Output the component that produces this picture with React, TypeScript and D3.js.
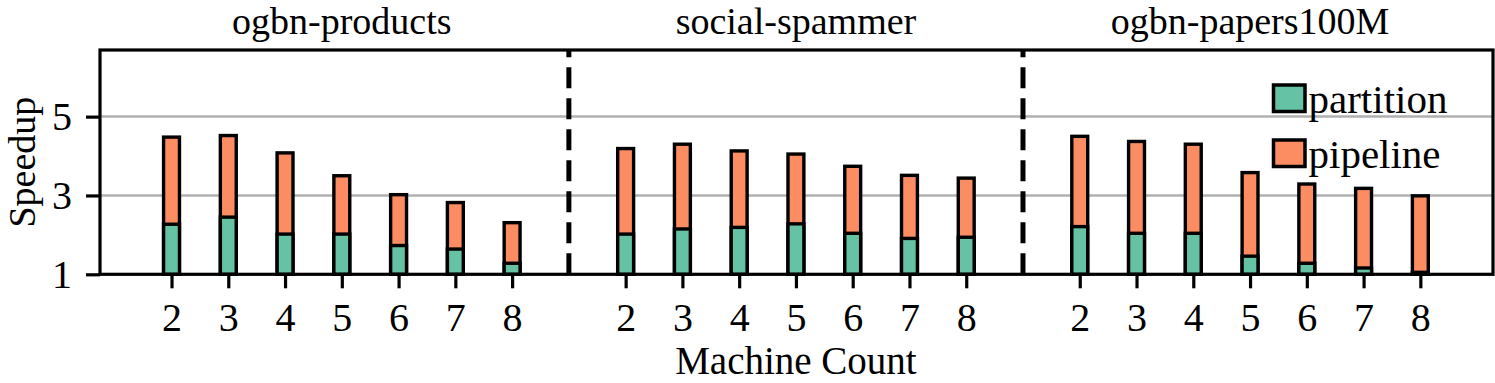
import React, { useEffect, useRef } from 'react';
import * as d3 from 'd3';

// datasets (one panel each) and machine counts on the x axis
const datasets = ['ogbn-products', 'social-spammer', 'ogbn-papers100M'];
const machines = [2, 3, 4, 5, 6, 7, 8];

// speedup reached with partition only
const partitionProducts = [2.27, 2.45, 2.02, 2.02, 1.73, 1.64, 1.28];
const partitionSpammer = [2.02, 2.15, 2.19, 2.28, 2.04, 1.91, 1.94];
const partitionPapers = [2.21, 2.04, 2.04, 1.46, 1.28, 1.16, 1.05];

// speedup with partition + pipeline (top of stacked bar)
const pipelineProducts = [4.48, 4.52, 4.08, 3.50, 3.02, 2.82, 2.31];
const pipelineSpammer = [4.19, 4.30, 4.13, 4.05, 3.74, 3.51, 3.44];
const pipelinePapers = [4.50, 4.37, 4.30, 3.58, 3.29, 3.18, 2.99];

const yTicks = [1, 3, 5];

const partitionSeries = [partitionProducts, partitionSpammer, partitionPapers];
const pipelineSeries = [pipelineProducts, pipelineSpammer, pipelinePapers];

const GREEN = '#66c2a5';
const ORANGE = '#fc8d62';
const FONT = '"Liberation Serif", "DejaVu Serif", serif';

export default function App() {
    const ref = useRef<SVGSVGElement>(null);

    useEffect(() => {
        const svg = d3.select(ref.current);
        svg.selectAll('*').remove();

        const left = 100, right = 1493, top = 50, bottom = 274.3;
        const slot = machines.length + 1;

        const x = d3.scaleLinear()
            .domain([-1.26, 3 * slot - 0.72])
            .range([left, right]);
        const y = d3.scaleLinear()
            .domain([1, 6.69])
            .range([bottom, top]);

        const barW = x(0.28) - x(0);

        // grid lines
        svg.append('g')
            .selectAll('line')
            .data(yTicks.filter(d => d > 1))
            .join('line')
            .attr('x1', left).attr('x2', right)
            .attr('y1', d => y(d)).attr('y2', d => y(d))
            .attr('stroke', '#b0b0b0')
            .attr('stroke-width', 2.5);

        // bars
        const rows = datasets.flatMap((name, g) => machines.map((m, i) => ({
            pos: g * slot + i,
            partition: partitionSeries[g][i],
            pipeline: pipelineSeries[g][i],
        })));

        const bars = svg.append('g');
        bars.selectAll('rect.pipe')
            .data(rows)
            .join('rect')
            .attr('class', 'pipe')
            .attr('x', d => x(d.pos) - barW / 2)
            .attr('width', barW)
            .attr('y', d => y(d.pipeline))
            .attr('height', d => y(1) - y(d.pipeline))
            .attr('fill', ORANGE)
            .attr('stroke', '#000')
            .attr('stroke-width', 3.4);
        bars.selectAll('rect.part')
            .data(rows)
            .join('rect')
            .attr('class', 'part')
            .attr('x', d => x(d.pos) - barW / 2)
            .attr('width', barW)
            .attr('y', d => y(d.partition))
            .attr('height', d => y(1) - y(d.partition))
            .attr('fill', GREEN)
            .attr('stroke', '#000')
            .attr('stroke-width', 3.4);

        // separators between datasets
        svg.append('g')
            .selectAll('line')
            .data([1, 2])
            .join('line')
            .attr('x1', d => x(d * slot - 1)).attr('x2', d => x(d * slot - 1))
            .attr('y1', bottom).attr('y2', top)
            .attr('stroke', '#000')
            .attr('stroke-width', 5)
            .attr('stroke-dasharray', '21,10');

        // frame
        svg.append('rect')
            .attr('x', left).attr('y', top)
            .attr('width', right - left).attr('height', bottom - top)
            .attr('fill', 'none')
            .attr('stroke', '#000')
            .attr('stroke-width', 3.2);

        // x axis
        const xAxis = d3.axisBottom(x)
            .tickValues(rows.map(d => d.pos))
            .tickFormat((d, i) => String(machines[i % machines.length]))
            .tickSize(14)
            .tickPadding(14);
        const gx = svg.append('g')
            .attr('transform', `translate(0,${bottom})`)
            .call(xAxis);
        gx.select('.domain').remove();
        gx.selectAll('line').attr('stroke-width', 3.2);
        gx.selectAll('text')
            .attr('font-family', FONT)
            .attr('font-size', 40)
            .attr('fill', '#000');

        // y axis
        const yAxis = d3.axisLeft(y)
            .tickValues(yTicks)
            .tickFormat(d3.format('d'))
            .tickSize(14)
            .tickPadding(14);
        const gy = svg.append('g')
            .attr('transform', `translate(${left},0)`)
            .call(yAxis);
        gy.select('.domain').remove();
        gy.selectAll('line').attr('stroke-width', 3.2);
        gy.selectAll('text')
            .attr('font-family', FONT)
            .attr('font-size', 40)
            .attr('fill', '#000');

        // panel titles
        svg.append('g')
            .selectAll('text')
            .data(datasets)
            .join('text')
            .attr('x', (d, g) => x(g * slot + (machines.length - 1) / 2))
            .attr('y', 34)
            .attr('text-anchor', 'middle')
            .attr('font-family', FONT)
            .attr('font-size', 38)
            .text(d => d);

        // axis labels
        svg.append('text')
            .attr('x', x(slot + (machines.length - 1) / 2))
            .attr('y', 374)
            .attr('text-anchor', 'middle')
            .attr('font-family', FONT)
            .attr('font-size', 39)
            .text('Machine Count');
        svg.append('text')
            .attr('transform', `translate(34.5,${(top + bottom) / 2}) rotate(-90)`)
            .attr('text-anchor', 'middle')
            .attr('font-family', FONT)
            .attr('font-size', 38)
            .text('Speedup');

        // legend
        const legend = svg.append('g').attr('transform', 'translate(1273.5,85)');
        const items = [{ label: 'partition', color: GREEN }, { label: 'pipeline', color: ORANGE }];
        items.forEach((it, i) => {
            legend.append('rect')
                .attr('x', 0).attr('y', i * 55)
                .attr('width', 31.5).attr('height', 26.5)
                .attr('fill', it.color)
                .attr('stroke', '#000')
                .attr('stroke-width', 3.5);
            legend.append('text')
                .attr('x', 35).attr('y', i * 55 + 27.5)
                .attr('font-family', FONT)
                .attr('font-size', 41)
                .text(it.label);
        });
    }, []);

    return (
        <svg ref={ref} width={1495} height={383}
            style={{ position: 'absolute', left: 0, top: 0, background: '#fff' }} />
    );
}
